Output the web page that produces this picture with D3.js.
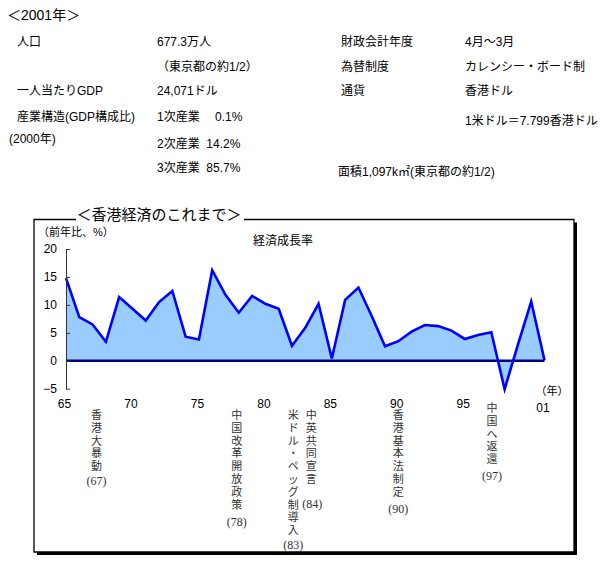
<!DOCTYPE html>
<html lang="ja">
<head>
<meta charset="UTF-8">
<title>香港経済のこれまで</title>
<script src="https://d3js.org/d3.v7.min.js"></script>
<style>
    body { margin: 0; background: #fff; }
    text { font-family: "Liberation Sans", Arial, "Noto Sans CJK JP", sans-serif; fill: #000; }
    .info { font-size: 12px; }
    .axis text { font-size: 12px; }
    .axis path, .axis line { stroke: #333; }
    .note { font-family: "Liberation Sans", "Noto Sans CJK JP", sans-serif; font-size: 11px; fill: #333; }
    .note-year { font-family: "Liberation Serif", "Noto Sans CJK JP", serif; font-size: 12px; fill: #333; }
</style>
</head>
<body>
<svg width="605" height="565"></svg>
<script>
// Data
const years = d3.range(1965, 2002);
const growth = [14.8, 7.8, 6.5, 3.4, 11.4, 9.3, 7.2, 10.5, 12.5, 4.3,
                3.8, 16.2, 11.8, 8.6, 11.6, 10.2, 9.3, 2.7, 5.9, 10.2,
                0.4, 10.9, 13.1, 8.0, 2.6, 3.5, 5.2, 6.4, 6.2, 5.4,
                3.9, 4.6, 5.1, -5.1, 2.9, 10.6, 0.1];
const yTicks = [-5, 0, 5, 10, 15, 20];
const xTicks = [1965, 1970, 1975, 1980, 1985, 1990, 1995, 2001];

// events shown under the chart (position in years, vertical text, year label)
const eventPos = [1967.3, 1977.85, 1982.1, 1983.45, 1990.0, 1997.05];
const eventText = ["香港大暴動", "中国改革開放政策", "米ドル・ペッグ制導入", "中英共同宣言", "香港基本法制定", "中国へ返還"];
const eventYear = ["(67)", "(78)", "(83)", "(84)", "(90)", "(97)"];

// info block
const infoLeftLabels = ["人口", "一人当たりGDP", "産業構造(GDP構成比)", "(2000年)"];
const infoLeftValues = ["677.3万人", "（東京都の約1/2）", "24,071ドル", "1次産業　 0.1%", "2次産業  14.2%", "3次産業  85.7%"];
const infoRightLabels = ["財政会計年度", "為替制度", "通貨"];
const infoRightValues = ["4月～3月", "カレンシー・ボード制", "香港ドル", "1米ドル＝7.799香港ドル"];

const svg = d3.select("svg");

// ---- top info text
svg.append("text").attr("x", 7).attr("y", 20).style("font-size", "14px").text("＜2001年＞");

const leftLabelY = [46, 95, 121, 143];
const leftLabelX = [17, 17, 17, 9];
infoLeftLabels.forEach((t, i) => {
    svg.append("text").attr("class", "info").attr("x", leftLabelX[i]).attr("y", leftLabelY[i]).text(t);
});
const leftValY = [46, 71, 95, 121, 148, 172];
infoLeftValues.forEach((t, i) => {
    svg.append("text").attr("class", "info").attr("x", 157).attr("y", leftValY[i])
        .attr("xml:space", "preserve").style("white-space", "pre").text(t);
});
const rightLabelY = [46, 71, 95];
infoRightLabels.forEach((t, i) => {
    svg.append("text").attr("class", "info").attr("x", 341).attr("y", rightLabelY[i]).text(t);
});
const rightValY = [46, 71, 95, 125];
infoRightValues.forEach((t, i) => {
    svg.append("text").attr("class", "info").attr("x", 465).attr("y", rightValY[i]).text(t);
});
svg.append("text").attr("class", "info").attr("x", 338).attr("y", 176).text("面積1,097k㎡(東京都の約1/2)");

// ---- frame with shadow
const fx0 = 34, fy0 = 219.5, fx1 = 574, fy1 = 552;
svg.append("path")
    .attr("d", `M${fx1 + 1.5},${fy0 + 3}V${fy1 + 1.5}H${fx0 + 3}`)
    .attr("fill", "none").attr("stroke", "#000").attr("stroke-width", 3);
svg.append("path")
    .attr("d", `M76,${fy0}H${fx0}V${fy1}H${fx1}V${fy0}H244`)
    .attr("fill", "none").attr("stroke", "#000").attr("stroke-width", 1.3);
svg.append("text").attr("x", 159).attr("y", 220).attr("text-anchor", "middle")
    .style("font-size", "15px").text("＜香港経済のこれまで＞");

// ---- chart
const x = d3.scaleLinear().domain([1965, 2001]).range([66, 544.5]);
const y = d3.scaleLinear().domain([-5, 20]).range([388.7, 249]);
const data = years.map((yr, i) => ({ yr, v: growth[i] }));

svg.append("path")
    .datum(data)
    .attr("fill", "#99ccff")
    .attr("d", d3.area().x(d => x(d.yr)).y0(y(0)).y1(d => y(d.v)));

svg.append("line")
    .attr("x1", x(1965)).attr("x2", x(2001))
    .attr("y1", y(0)).attr("y2", y(0))
    .attr("stroke", "#000080").attr("stroke-width", 2.5);

svg.append("path")
    .datum(data)
    .attr("fill", "none")
    .attr("stroke", "#0000ff")
    .attr("stroke-width", 2.6)
    .attr("d", d3.line().x(d => x(d.yr)).y(d => y(d.v)));

// Y axis
svg.append("g")
    .attr("class", "axis")
    .attr("transform", `translate(${x(1965)},0)`)
    .call(d3.axisLeft(y).tickValues(yTicks).tickSizeInner(-4).tickSizeOuter(0).tickPadding(9)
        .tickFormat(d => d < 0 ? "−" + Math.abs(d) : d));

// X axis labels (no line)
svg.append("g")
    .attr("class", "axis")
    .attr("transform", "translate(-2,396)")
    .call(d3.axisBottom(x).tickValues(xTicks).tickSize(0).tickPadding(3)
        .tickFormat(d => String(d).slice(2)))
    .call(g => g.select(".domain").remove())
    .call(g => g.selectAll(".tick").filter(d => d === 2001).select("text").attr("dy", "1.05em"));

svg.append("text").attr("x", 552).attr("y", 395).attr("text-anchor", "middle")
    .style("font-size", "11px").text("（年）");
svg.append("text").attr("x", 38).attr("y", 236).style("font-size", "11px").text("（前年比、%）");
svg.append("text").attr("x", 283).attr("y", 245).attr("text-anchor", "middle")
    .style("font-size", "12px").text("経済成長率");

// ---- events (vertical text, one character per line)
const step = 12.8;
const firstY = [419, 419, 419, 419, 419, 412];
const yearGap = [15, 17, 15, 25, 17, 17];
eventPos.forEach((p, i) => {
    const cx = x(p);
    const chars = Array.from(eventText[i]);
    const g = svg.append("g");
    chars.forEach((c, k) => {
        g.append("text").attr("class", "note")
            .attr("x", cx).attr("y", firstY[i] + k * step)
            .attr("text-anchor", "middle")
            .text(c);
    });
    const lastY = firstY[i] + (chars.length - 1) * step;
    g.append("text").attr("class", "note-year")
        .attr("x", cx + (i === 3 ? 1 : 0))
        .attr("y", lastY + yearGap[i])
        .attr("text-anchor", "middle")
        .text(eventYear[i]);
});
</script>
</body>
</html>
